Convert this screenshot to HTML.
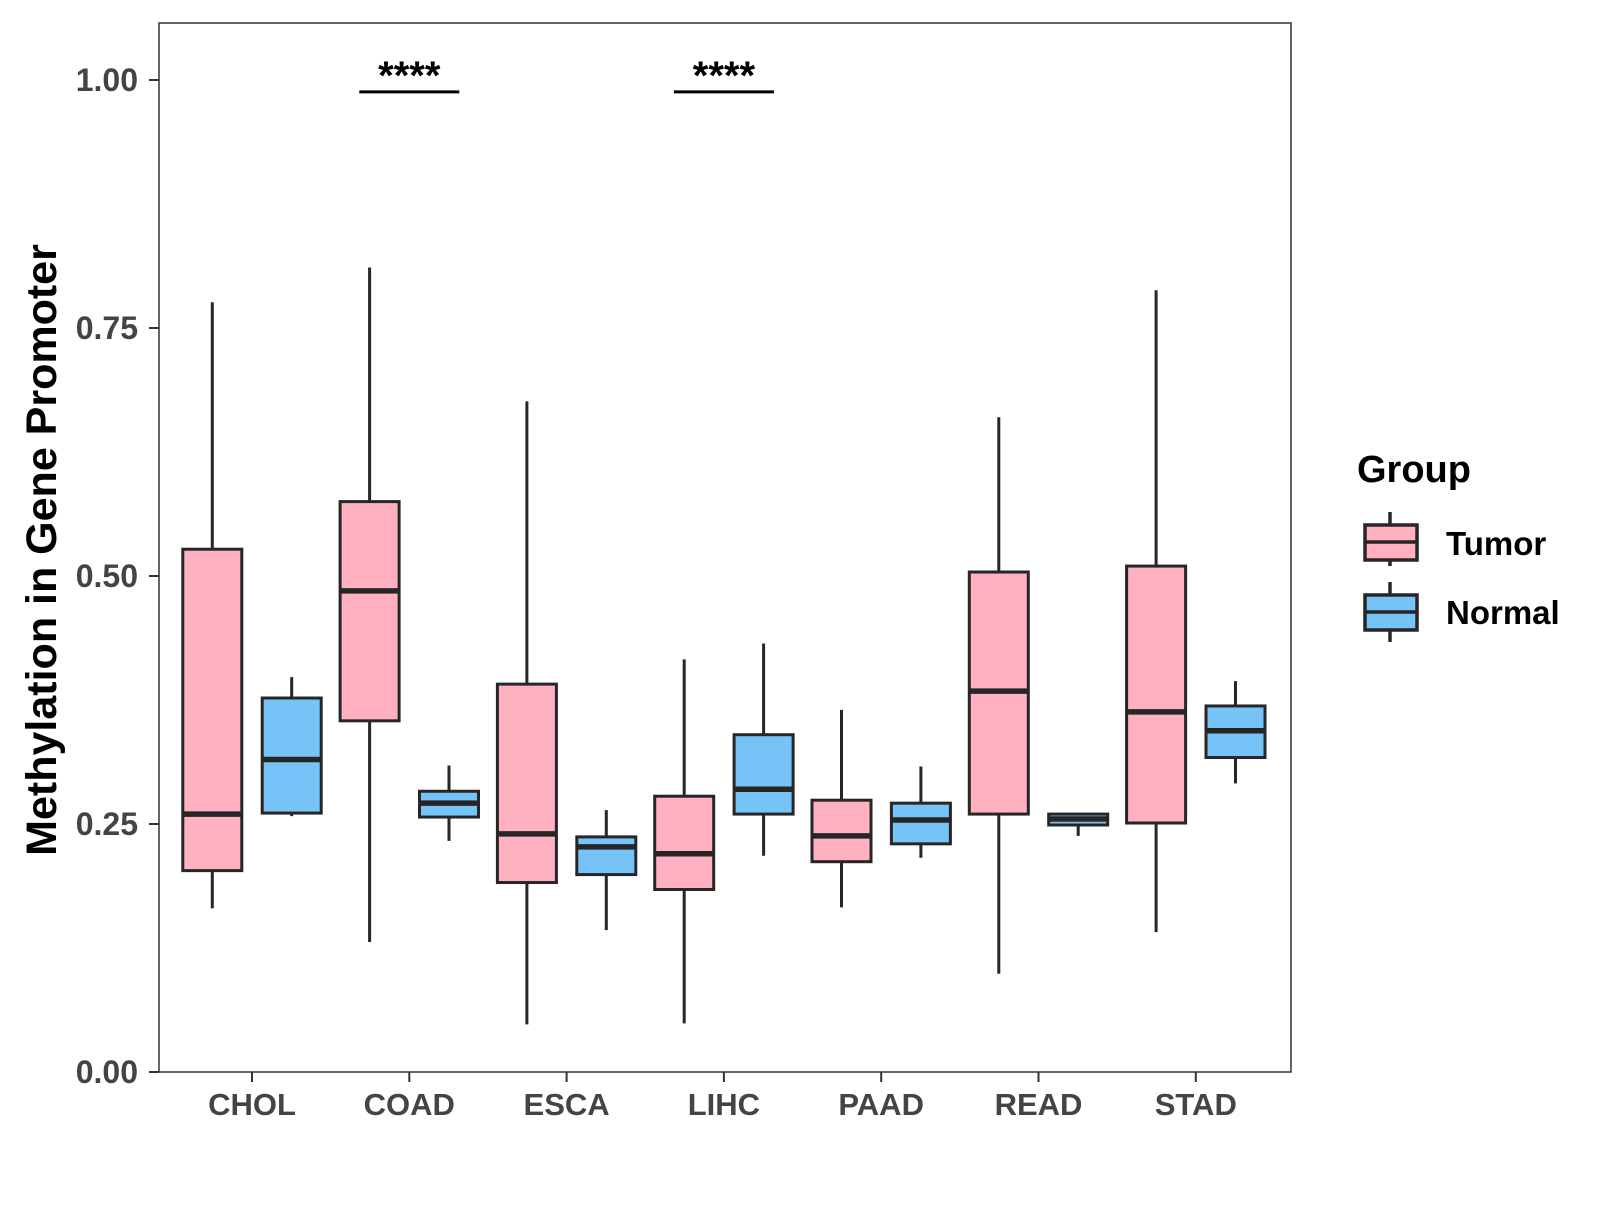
<!DOCTYPE html>
<html><head><meta charset="utf-8"><style>
body{margin:0;background:#fff;}
svg text{font-family:"Liberation Sans",Arial,sans-serif;font-weight:bold;}
</style></head><body>
<svg id="chart" width="1600" height="1200">
<rect x="0" y="0" width="1600" height="1200" fill="#fff"/>
<g id="marks"></g>
<rect x="159" y="23" width="1132" height="1049" fill="none" stroke="#333" stroke-width="1.5"/>
<g id="axes"></g>
<text x="56" y="550" font-size="43" text-anchor="middle" transform="rotate(-90 56 550)" fill="#000">Methylation in Gene Promoter</text>
<g>
<text x="1357" y="482" font-size="38" fill="#000">Group</text>
<g>
<line x1="1390" y1="512" x2="1390" y2="566" stroke="#262626" stroke-width="3.5"/>
<rect x="1365" y="525" width="52" height="35" fill="#FFB0C1" stroke="#262626" stroke-width="3.5"/>
<line x1="1365" y1="542" x2="1417" y2="542" stroke="#262626" stroke-width="3.5"/>
<text x="1446" y="555" font-size="33" fill="#000">Tumor</text>
</g>
<g>
<line x1="1390" y1="582" x2="1390" y2="642" stroke="#262626" stroke-width="3.5"/>
<rect x="1365" y="595" width="52" height="35" fill="#76C3F8" stroke="#262626" stroke-width="3.5"/>
<line x1="1365" y1="612" x2="1417" y2="612" stroke="#262626" stroke-width="3.5"/>
<text x="1446" y="624" font-size="33" fill="#000">Normal</text>
</g>
</g>
</svg>
<script>
const categories=["CHOL","COAD","ESCA","LIHC","PAAD","READ","STAD"];
const tumorLow=[0.165,0.131,0.048,0.049,0.166,0.099,0.141];
const tumorQ1=[0.203,0.354,0.191,0.184,0.212,0.260,0.251];
const tumorMed=[0.260,0.485,0.240,0.220,0.238,0.384,0.363];
const tumorQ3=[0.527,0.575,0.391,0.278,0.274,0.504,0.510];
const tumorHigh=[0.776,0.811,0.676,0.416,0.365,0.660,0.788];
const normalLow=[0.258,0.233,0.143,0.218,0.216,0.238,0.291];
const normalQ1=[0.261,0.257,0.199,0.260,0.230,0.249,0.317];
const normalMed=[0.315,0.271,0.227,0.285,0.254,0.255,0.344];
const normalQ3=[0.377,0.283,0.237,0.340,0.271,0.260,0.369];
const normalHigh=[0.398,0.309,0.264,0.432,0.308,0.261,0.394];
const yTicks=[0,0.25,0.5,0.75,1.0];
const yTickLabels=["0.00","0.25","0.50","0.75","1.00"];
const sigCategories=["COAD","LIHC"];
const sigLabels=["****","****"];
const sigY=[0.99,0.99];

const NS="http://www.w3.org/2000/svg";
const y=v=>1072-992*v;
const x=i=>252+157.3*i;
const marks=document.getElementById('marks');
const axes=document.getElementById('axes');
function mk(tag,attrs,parent){const e=document.createElementNS(NS,tag);for(const k in attrs)e.setAttribute(k,attrs[k]);parent.appendChild(e);return e;}
function box(cx,lo,q1,md,q3,hi,fill,name){
  const g=mk('g',{},marks);
  
  
  const s='#262626',hw=29.5;
  mk('line',{x1:cx,x2:cx,y1:y(hi),y2:y(lo),stroke:s,'stroke-width':3},g);
  mk('rect',{x:cx-hw,y:y(q3),width:2*hw,height:y(q1)-y(q3),fill:fill,stroke:s,'stroke-width':3},g);
  mk('line',{x1:cx-hw,x2:cx+hw,y1:y(md),y2:y(md),stroke:s,'stroke-width':5.5},g);
}
categories.forEach((c,i)=>{
  box(x(i)-39.7,tumorLow[i],tumorQ1[i],tumorMed[i],tumorQ3[i],tumorHigh[i],'#FFB0C1','box-tumor-'+c.toLowerCase());
  box(x(i)+39.7,normalLow[i],normalQ1[i],normalMed[i],normalQ3[i],normalHigh[i],'#76C3F8','box-normal-'+c.toLowerCase());
  const t=mk('line',{x1:x(i),x2:x(i),y1:1072,y2:1082,stroke:'#333','stroke-width':2},axes);
  
  
  const l=mk('text',{x:x(i),y:1115,'font-size':31,'text-anchor':'middle',fill:'#444'},axes);
  l.textContent=c;
  
  
});
yTicks.forEach((v,i)=>{
  const t=mk('line',{x1:149,x2:159,y1:y(v),y2:y(v),stroke:'#333','stroke-width':2},axes);
  
  
  const l=mk('text',{x:138,y:y(v)+11,'font-size':32,'text-anchor':'end',fill:'#444'},axes);
  l.textContent=yTickLabels[i];
  
  
});
sigCategories.forEach((c,k)=>{
  const i=categories.indexOf(c);
  const ln=mk('line',{x1:x(i)-50,x2:x(i)+50,y1:y(sigY[k])+2,y2:y(sigY[k])+2,stroke:'#000','stroke-width':3},marks);
  
  
  const tx=mk('text',{x:x(i),y:y(sigY[k])-1,'font-size':40,'text-anchor':'middle',fill:'#000'},marks);
  tx.textContent=sigLabels[k];
  
  
});
</script>
</body></html>
